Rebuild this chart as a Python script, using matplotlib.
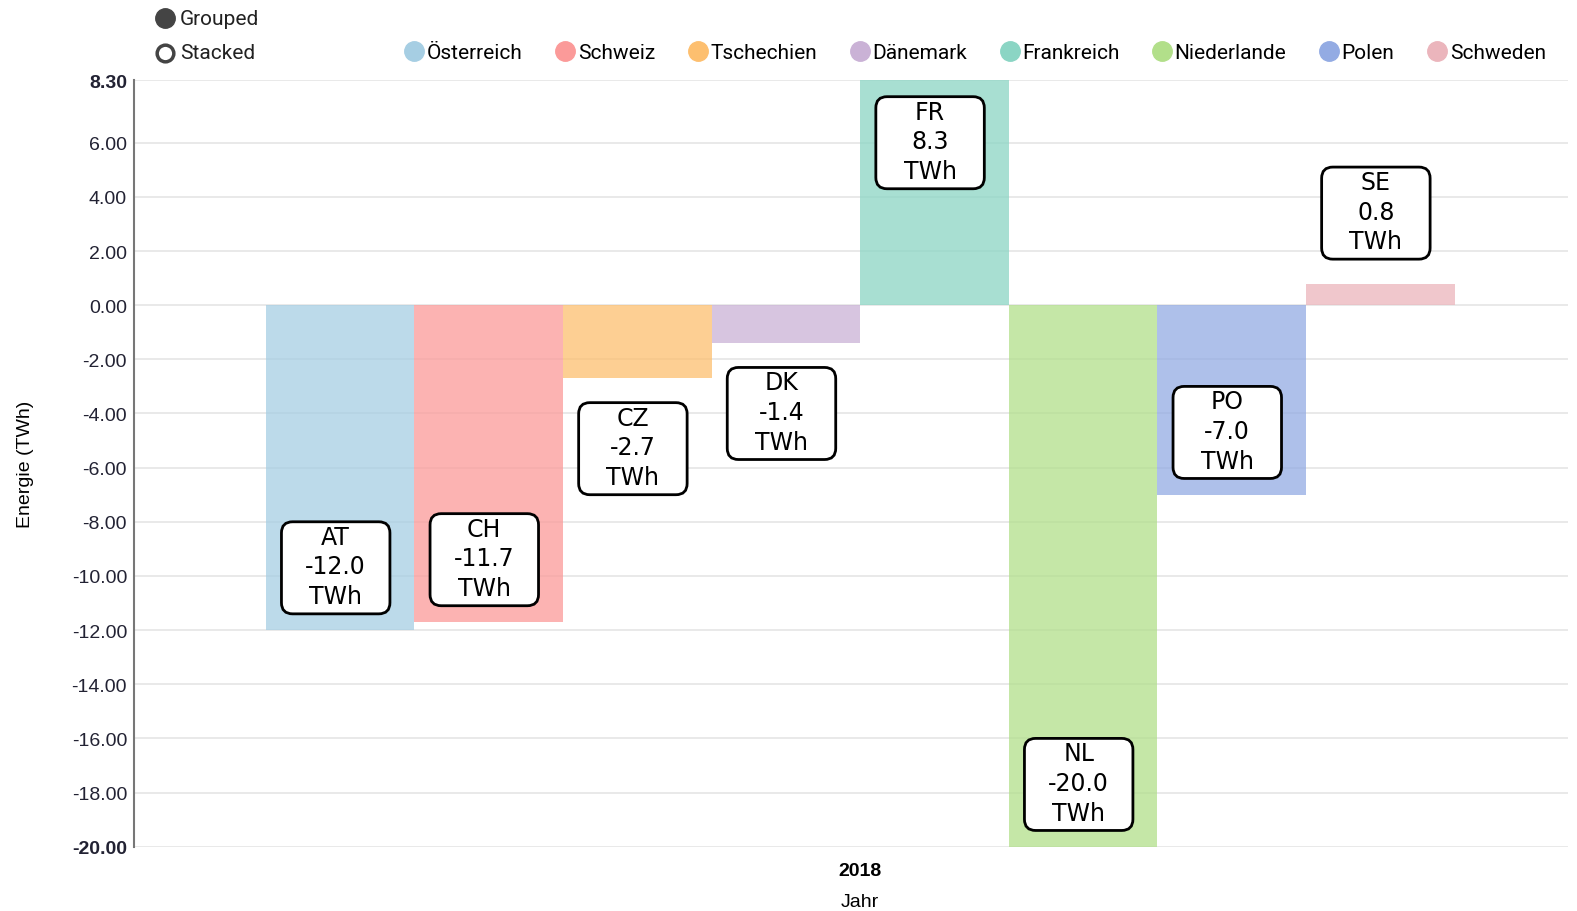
import matplotlib.pyplot as plt
from matplotlib.lines import Line2D
from matplotlib.patches import FancyBboxPatch
import numpy as np

# data
countries = ['Österreich', 'Schweiz', 'Tschechien', 'Dänemark', 'Frankreich', 'Niederlande', 'Polen', 'Schweden']
codes = ['AT', 'CH', 'CZ', 'DK', 'FR', 'NL', 'PO', 'SE']
values = [-12.0, -11.7, -2.7, -1.4, 8.3, -20.0, -7.0, 0.8]
colors = ['#a6cee3', '#fb9a99', '#fdbf6f', '#cab2d6', '#8bd5c4', '#b2df8a', '#93abe3', '#ebb5bc']
year = '2018'
yticks = [8.3, 6, 4, 2, 0, -2, -4, -6, -8, -10, -12, -14, -16, -18, -20]

plt.rcParams['font.family'] = ['Liberation Sans', 'DejaVu Sans']

fig = plt.figure(figsize=(15.77, 9.12), dpi=100)
ax = fig.add_axes([0.085, 0.0705, 0.9093, 0.8402])

x = np.arange(len(values))
ax.bar(x, values, width=1.0, color=colors, alpha=0.75, zorder=2)

xmin, xmax = -1.387, 8.263
ax.set_xlim(xmin, xmax)
ax.set_ylim(-20, 8.3)

# value boxes
bw, bh = 0.73, 3.4
for xi, v, c in zip(x, values, codes):
    s = np.sign(v)
    if abs(v) > 4:
        yl = v - s * 2.3
    else:
        yl = v + s * 2.6
    cx = xi - 0.03
    box = FancyBboxPatch((cx - bw / 2, yl - bh / 2), bw, bh,
                         boxstyle='round,pad=0,rounding_size=0.075', mutation_aspect=5.5,
                         fc='white', ec='black', lw=2, zorder=3)
    ax.add_patch(box)
    ax.text(cx, yl + 0.05, c + '\n' + '%.1f' % v + '\nTWh', ha='center', va='center',
            fontsize=17, linespacing=1.3, family='DejaVu Sans', color='black', zorder=4)

ax.set_yticks(yticks)
ax.set_yticklabels(['%.2f' % t for t in yticks])
for lab in [ax.get_yticklabels()[0], ax.get_yticklabels()[-1]]:
    lab.set_fontweight('bold')
ax.tick_params(axis='y', length=0, pad=5, labelsize=14, labelcolor='#222233')
xc = (len(values) - 1) / 2
ax.set_xticks([xc])
ax.set_xticklabels([year], fontweight='bold', fontsize=14)
ax.tick_params(axis='x', length=0, pad=11)
ax.grid(axis='y', color='#e5e5e5', lw=1.2, zorder=0)
ax.set_axisbelow(True)
for sp in ['top', 'right', 'bottom']:
    ax.spines[sp].set_visible(False)
ax.spines['left'].set_color('#777777')
ax.spines['left'].set_linewidth(1.5)

ax.set_xlabel('Jahr', fontsize=14)
ax.xaxis.set_label_coords((xc - xmin) / (xmax - xmin), -0.06)
ax.set_ylabel('Energie (TWh)', fontsize=14, labelpad=27)

# legend
handles = [Line2D([], [], marker='o', ls='', markersize=14, markerfacecolor=c, markeredgecolor=c)
           for c in colors]
fig.legend(handles, countries, loc='center right', bbox_to_anchor=(0.992, 0.941), ncol=8,
           frameon=False, handletextpad=0.0, columnspacing=1.45, handlelength=1.2,
           prop={'family': 'Roboto', 'size': 15})

# grouped / stacked switch
fig.add_artist(Line2D([0.1046], [0.979], marker='o', markersize=14, color='#444444',
                      transform=fig.transFigure))
fig.add_artist(Line2D([0.1046], [0.941], marker='o', markersize=12, markerfacecolor='white',
                      markeredgecolor='#444444', markeredgewidth=2.5, transform=fig.transFigure))
fig.text(0.1141, 0.979, 'Grouped', va='center', fontsize=15, family='Roboto', color='#222222')
fig.text(0.1141, 0.941, 'Stacked', va='center', fontsize=15, family='Roboto', color='#222222')

plt.savefig('out.png')
